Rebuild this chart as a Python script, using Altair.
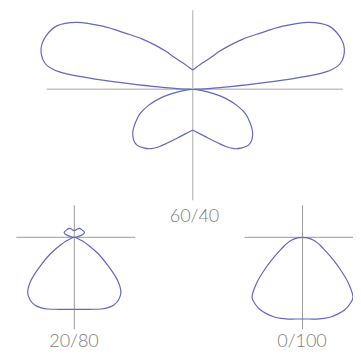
import altair as alt
import pandas as pd

# ---- data: luminous intensity (relative units) vs angle from nadir (deg) ----
panels = ["60/40", "20/80", "0/100"]

angles_60_40 = [0, 5, 10, 15, 20, 25, 30, 35, 40, 45, 50, 55, 60, 65, 70, 75, 80, 85, 90,
                92, 93, 94, 95, 96, 97, 98, 100, 105, 110, 115, 120, 125, 130, 135, 140,
                145, 150, 160, 170, 180]
intensity_60_40 = [40.7, 42.8, 45.5, 49, 53.5, 59, 66, 72.5, 76.5, 79, 77.5, 73, 66, 58.5, 47,
                   33, 15, 4, 0,
                   8, 18, 32, 60, 98, 128, 140, 150, 157, 156, 150, 134, 110, 87, 71, 57,
                   46, 37, 28, 22.5, 19.3]

angles_20_80 = [0, 5, 10, 15, 20, 25, 30, 35, 40, 45, 50, 55, 60, 65, 70, 75, 80, 85, 90,
                95, 100, 105, 110, 115, 120, 130, 140, 150, 160, 170, 180]
intensity_20_80 = [72, 72.3, 73.1, 74.5, 76.3, 77.8, 78.4, 76.8, 72.5, 61.5, 44, 30, 17, 9.5, 3,
                   1, 0.3, 0.1, 0,
                   1, 3, 6.5, 9.8, 11.2, 11.2, 10.8, 10.6, 10.2, 8.8, 7.3, 6.6]

angles_0_100 = [0, 5, 10, 15, 20, 25, 30, 35, 40, 45, 50, 55, 60, 65, 70, 75, 80, 85, 90]
intensity_0_100 = [81.7, 82, 83, 84, 84.5, 84.5, 84, 82, 78.5, 65, 48.5, 35, 26, 20,
                   15.5, 11.5, 7.5, 3.8, 0]

# ---- layout (chart pixel coordinates) ----
W, H = 345, 342
CENTER = {"60/40": (184.7, 81.3), "20/80": (66.3, 229.3), "0/100": (294.5, 229.3)}
CROSS = {"60/40": (-146, 150, -79, 111), "20/80": (-58, 61, -32, 92), "0/100": (-58, 51, -32, 92)}
LABEL_POS = {"60/40": (186.5, 209.0), "20/80": (66.0, 333.5), "0/100": (294.0, 333.5)}

series = {"60/40": (angles_60_40, intensity_60_40),
          "20/80": (angles_20_80, intensity_20_80),
          "0/100": (angles_0_100, intensity_0_100)}

rows = []
for p in panels:
    ang, val = series[p]
    cx, cy = CENTER[p]
    for side in (1, -1):
        for i, (a, v) in enumerate(zip(ang, val)):
            rows.append(dict(panel=p, side=side, branch=f"{p}|{side}", gamma=a,
                             intensity=v, seq=i, cx=cx, cy=cy))
curves = pd.DataFrame(rows)

rule_rows = []
for p in panels:
    cx, cy = CENTER[p]
    xl, xr, yt, yb = CROSS[p]
    rule_rows.append(dict(panel=p, x=cx + xl, x2=cx + xr, y=cy, y2=cy))
    rule_rows.append(dict(panel=p, x=cx, x2=cx, y=cy + yt, y2=cy + yb))
rules = pd.DataFrame(rule_rows)

labels = pd.DataFrame([dict(panel=p, x=LABEL_POS[p][0], y=LABEL_POS[p][1]) for p in panels])

xs = alt.Scale(domain=[0, W], nice=False, zero=False)
ys = alt.Scale(domain=[0, H], nice=False, zero=False, reverse=True)

rule_big = alt.Chart(rules).transform_filter(alt.datum.panel == "60/40").mark_rule(
    color="#c4c4c4", strokeWidth=1.4
).encode(
    x=alt.X("x:Q", scale=xs, axis=None), x2="x2:Q",
    y=alt.Y("y:Q", scale=ys, axis=None), y2="y2:Q",
)
rule_small = alt.Chart(rules).transform_filter(alt.datum.panel != "60/40").mark_rule(
    color="#9a9a9a", strokeWidth=1
).encode(
    x=alt.X("x:Q", scale=xs, axis=None), x2="x2:Q",
    y=alt.Y("y:Q", scale=ys, axis=None), y2="y2:Q",
)

lines = alt.Chart(curves).transform_calculate(
    px="datum.cx + datum.side * datum.intensity * sin(datum.gamma * PI / 180)",
    py="datum.cy + datum.intensity * cos(datum.gamma * PI / 180)",
).mark_line(color="#6367bd", strokeWidth=1.2, interpolate="catmull-rom").encode(
    x=alt.X("px:Q", scale=xs, axis=None),
    y=alt.Y("py:Q", scale=ys, axis=None),
    order="seq:Q",
    detail="branch:N",
)

text = alt.Chart(labels).mark_text(
    font="Lato", fontWeight=300, fontSize=18, color="#7b7b7b", baseline="middle", align="center"
).encode(
    x=alt.X("x:Q", scale=xs, axis=None),
    y=alt.Y("y:Q", scale=ys, axis=None),
    text="panel:N",
)

chart = alt.layer(rule_big, rule_small, lines, text).properties(
    width=W, height=H, autosize=alt.AutoSizeParams(type="none"), padding=0
).configure_view(stroke=None)

chart.save("out.html", embed_options={"renderer": "svg", "actions": False})
